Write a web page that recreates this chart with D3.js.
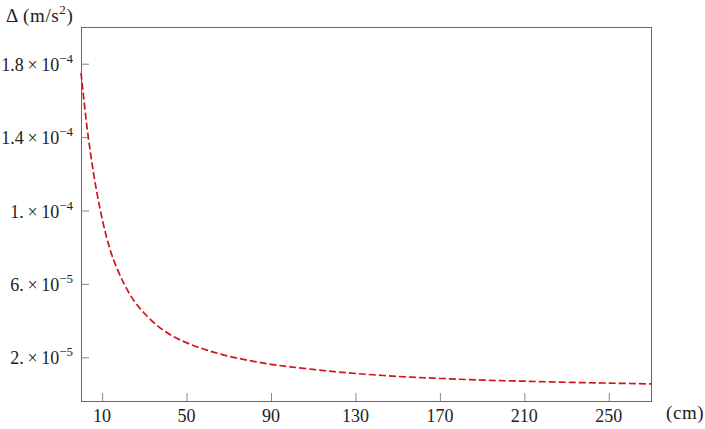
<!DOCTYPE html>
<html>
<head>
<meta charset="utf-8">
<script src="https://cdn.jsdelivr.net/npm/d3@7"></script>
<style>
  body { margin: 0; background: #fff; }
  text { font-family: "Liberation Serif", "Times New Roman", serif; fill: #222; }
</style>
</head>
<body>
<div id="chart"></div>
<script>
// distance (cm) and delta (in units of 1e-5 m/s^2)
const distCm = [0, 3, 6, 9, 12, 15, 20, 25, 30, 37, 44, 52, 60, 70, 80, 90, 100,
                115, 130, 150, 170, 190, 210, 230, 250, 270];
const delta = [17.5, 14.4, 12.0, 10.1, 8.6, 7.45, 6.1, 5.1, 4.4, 3.65, 3.12, 2.7, 2.38, 2.06, 1.82, 1.62, 1.47,
               1.28, 1.12, 0.96, 0.85, 0.76, 0.70, 0.64, 0.595, 0.55];

const xTicks = [10, 50, 90, 130, 170, 210, 250];
const yTicks = [2e-5, 6e-5, 1e-4, 1.4e-4, 1.8e-4];
const yTickMant = ['2.', '6.', '1.', '1.4', '1.8'];
const yTickExp = ['\u22125', '\u22125', '\u22124', '\u22124', '\u22124'];

const width = 705,
      height = 429;
const margin = {top: 27, right: 54, bottom: 28, left: 81};

var svg = d3.select('#chart')
            .append('svg')
            .attr('width', width)
            .attr('height', height);

var x = d3.scaleLinear()
          .domain([0, 270])
          .range([margin.left, width - margin.right]);

var y = d3.scaleLinear()
          .domain([-0.38e-5, 2.0e-4])
          .range([height - margin.bottom, margin.top]);

//frame
svg.append('rect')
   .attr('x', margin.left + 0.5)
   .attr('y', margin.top + 0.5)
   .attr('width', width - margin.left - margin.right)
   .attr('height', height - margin.top - margin.bottom)
   .attr('fill', 'none')
   .attr('stroke', '#666')
   .attr('stroke-width', 1);

//x ticks (inward)
var gx = svg.append('g')
            .attr('transform', 'translate(0,' + (height - margin.bottom) + ')')
            .call(d3.axisTop(x).tickValues(xTicks).tickSize(8).tickFormat(''));
gx.select('.domain').remove();
gx.selectAll('line').attr('stroke', '#888');

svg.append('g')
   .selectAll('text')
   .data(xTicks)
   .enter()
   .append('text')
   .attr('x', function (d) { return x(d); })
   .attr('y', 422)
   .attr('text-anchor', 'middle')
   .style('font-size', '18px')
   .text(function (d) { return d; });

//y ticks (inward)
var gy = svg.append('g')
            .attr('transform', 'translate(' + margin.left + ',0)')
            .call(d3.axisRight(y).tickValues(yTicks).tickSize(8).tickFormat(''));
gy.select('.domain').remove();
gy.selectAll('line').attr('stroke', '#888');

var yl = svg.append('g')
            .selectAll('text')
            .data(yTicks)
            .enter()
            .append('text')
            .attr('x', 73)
            .attr('y', function (d) { return y(d) + 7; })
            .attr('text-anchor', 'end')
            .style('font-size', '18px');
yl.append('tspan')
  .text(function (d, i) { return yTickMant[i] + '\u2009\u00d7\u200910'; });
yl.append('tspan')
  .attr('dy', -8)
  .style('font-size', '13px')
  .text(function (d, i) { return yTickExp[i]; });

//axis labels
var lab = svg.append('text')
             .attr('x', 6)
             .attr('y', 22)
             .style('font-size', '19px')
             .style('letter-spacing', '0.6px');
lab.append('tspan').text('\u0394 (m/s');
lab.append('tspan').attr('dy', -8).style('font-size', '13px').text('2');
lab.append('tspan').attr('dy', 8).text(')');

svg.append('text')
   .attr('x', 666)
   .attr('y', 419)
   .style('font-size', '19px')
   .style('letter-spacing', '0.6px')
   .text('(cm)');

//curve
var line = d3.line()
             .x(function (d) { return x(d[0]); })
             .y(function (d) { return y(d[1] * 1e-5); })
             .curve(d3.curveCatmullRom.alpha(0.5));

svg.append('path')
   .datum(distCm.map(function (d, i) { return [d, delta[i]]; }))
   .attr('d', line)
   .attr('fill', 'none')
   .attr('stroke', '#d1141c')
   .attr('stroke-width', 1.7)
   .attr('stroke-dasharray', '7,3');
</script>
</body>
</html>
